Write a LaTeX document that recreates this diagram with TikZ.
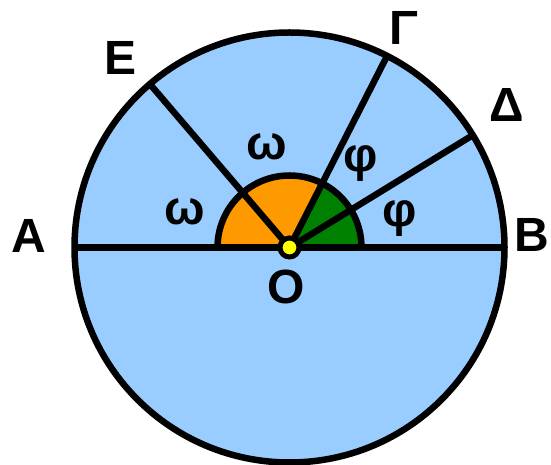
\documentclass[tikz,border=0pt]{standalone}
\usepackage{fontspec}
\setmainfont{Liberation Sans}
\definecolor{skyfill}{HTML}{99CCFF}
\definecolor{orangefill}{HTML}{FF9900}
\definecolor{greenfill}{HTML}{008000}
\definecolor{dotfill}{HTML}{FFFF00}
\begin{document}
\begin{tikzpicture}[x=1pt,y=1pt,
  lbl/.style={font=\fontsize{48}{48}\selectfont\bfseries, anchor=base, inner sep=0pt},
  edge/.style={line width=6.5pt},
]
\useasboundingbox (0,0) rectangle (551,465);
\coordinate (O) at (289.5,217.5);
\coordinate (A) at ([shift={(180:215pt)}]O);
\coordinate (B) at ([shift={(0:215pt)}]O);
\coordinate (E) at ([shift={(130.5:215pt)}]O);
\coordinate (G) at ([shift={(63:215pt)}]O);
\coordinate (D) at ([shift={(31.5:215pt)}]O);
\coordinate (S0) at ([shift={(0:72pt)}]O);
\coordinate (S63) at ([shift={(63:72pt)}]O);
% big disc
\fill[skyfill] (O) circle[radius=215pt];
% sectors
\fill[orangefill] (O) -- (S63) arc[start angle=63,end angle=180,radius=72pt] -- cycle;
\fill[greenfill] (O) -- (S0) arc[start angle=0,end angle=63,radius=72pt] -- cycle;
\draw[edge] (S0) arc[start angle=0,end angle=180,radius=72pt];
% lines
\draw[edge] (A) -- (B);
\draw[edge] (O) -- (E);
\draw[edge] (O) -- (G);
\draw[edge] (O) -- (D);
\draw[edge] (O) circle[radius=215pt];
% centre dot
\node[circle, draw, line width=5pt, fill=dotfill, minimum size=19pt, inner sep=0pt] (dot) at (O) {};
% labels
\node[lbl] (lA) at (29,212.3) {Α};
\node[lbl] (lB) at (531.5,213) {Β};
\node[lbl] (lE) at (121,390) {Ε};
\node[lbl] (lG) at (403.5,420.7) {Γ};
\node[lbl] (lD) at (506.5,343.3) {Δ};
\node[lbl] (lO) at (286,161.5) {Ο};
\node[lbl] (w1) at (185,240) {ω};
\node[lbl] (w2) at (266.5,305.7) {ω};
\node[lbl] (f1) at (361,293) {φ};
\node[lbl] (f2) at (400,238) {φ};
\end{tikzpicture}
\end{document}
